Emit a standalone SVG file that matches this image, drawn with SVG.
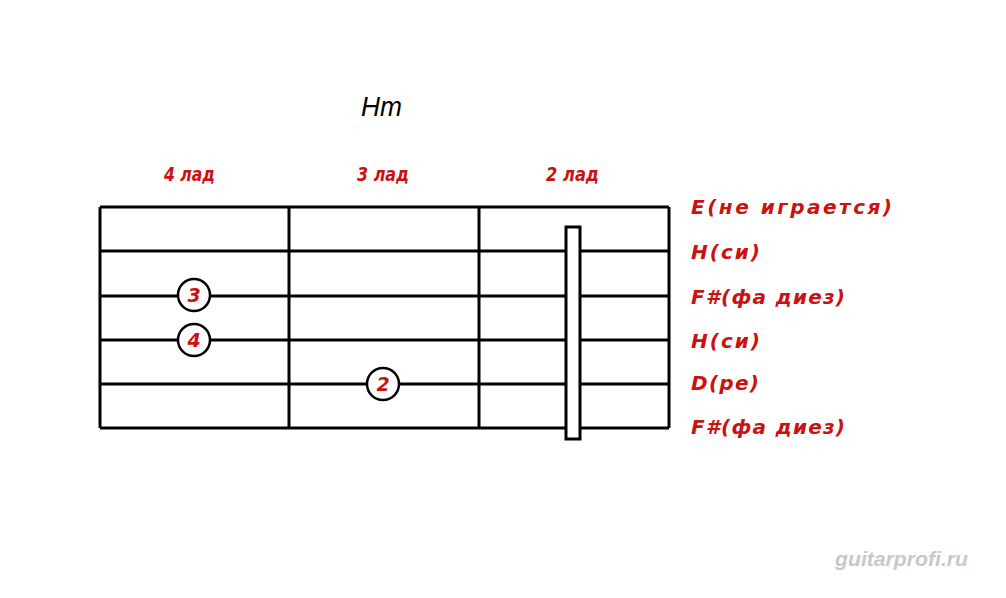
<svg xmlns="http://www.w3.org/2000/svg" width="1006" height="598" viewBox="0 0 1006 598">
<style>
.ln{stroke:#000;stroke-width:3;fill:none}
.lbl{font-family:"DejaVu Sans",Verdana,sans-serif;font-style:oblique;font-weight:bold;fill:#cc1111;font-size:20px}
.fl{font-family:"DejaVu Sans",Verdana,sans-serif;font-style:oblique;font-weight:bold;fill:#cc1111;font-size:19px}
.fin{fill:#fff;stroke:#000;stroke-width:2.5}
.fn{font-family:"DejaVu Sans",Verdana,sans-serif;font-style:oblique;font-weight:bold;fill:#cc1111;font-size:19px;text-anchor:middle}
</style>
<rect width="1006" height="598" fill="#fff"/>
<text x="361" y="116" font-family="Liberation Sans,Arial,sans-serif" font-style="italic" font-size="27" fill="#000" textLength="41" lengthAdjust="spacingAndGlyphs">Hm</text>
<g id="fret-labels">
<text class="fl" x="164" y="181" textLength="51" lengthAdjust="spacingAndGlyphs">4 лад</text>
<text class="fl" x="357" y="181" textLength="52" lengthAdjust="spacingAndGlyphs">3 лад</text>
<text class="fl" x="546" y="181" textLength="53" lengthAdjust="spacingAndGlyphs">2 лад</text>
</g>
<g id="grid">
<line class="ln" x1="100" y1="207" x2="669" y2="207"/>
<line class="ln" x1="100" y1="251" x2="669" y2="251"/>
<line class="ln" x1="100" y1="296" x2="669" y2="296"/>
<line class="ln" x1="100" y1="340" x2="669" y2="340"/>
<line class="ln" x1="100" y1="384" x2="669" y2="384"/>
<line class="ln" x1="100" y1="428" x2="669" y2="428"/>
<line class="ln" x1="100" y1="207" x2="100" y2="428"/>
<line class="ln" x1="289" y1="207" x2="289" y2="428"/>
<line class="ln" x1="479" y1="207" x2="479" y2="428"/>
<line class="ln" x1="669" y1="207" x2="669" y2="428"/>
</g>
<g id="barre">
<rect x="566" y="227" width="14" height="212" fill="#fff" stroke="#000" stroke-width="3"/>
</g>
<g id="finger-3">
<circle class="fin" cx="194" cy="295" r="16"/>
<text class="fn" x="194" y="302">3</text>
</g>
<g id="finger-4">
<circle class="fin" cx="194" cy="340" r="16"/>
<text class="fn" x="194" y="347">4</text>
</g>
<g id="finger-2">
<circle class="fin" cx="383" cy="384" r="16"/>
<text class="fn" x="383" y="391">2</text>
</g>
<g id="string-labels">
<text class="lbl" x="691" y="214" textLength="201" lengthAdjust="spacing">E(не играется)</text>
<text class="lbl" x="691" y="259" textLength="69" lengthAdjust="spacing">H(си)</text>
<text class="lbl" x="691" y="304" textLength="154" lengthAdjust="spacing">F#(фа диез)</text>
<text class="lbl" x="691" y="348" textLength="69" lengthAdjust="spacing">H(си)</text>
<text class="lbl" x="691" y="390" textLength="68" lengthAdjust="spacing">D(ре)</text>
<text class="lbl" x="691" y="434" textLength="154" lengthAdjust="spacing">F#(фа диез)</text>
</g>
<text x="835" y="566" font-family="Liberation Sans,Arial,sans-serif" font-style="italic" font-weight="bold" font-size="20" fill="#c8c8c8" textLength="133" lengthAdjust="spacingAndGlyphs">guitarprofi.ru</text>
</svg>
